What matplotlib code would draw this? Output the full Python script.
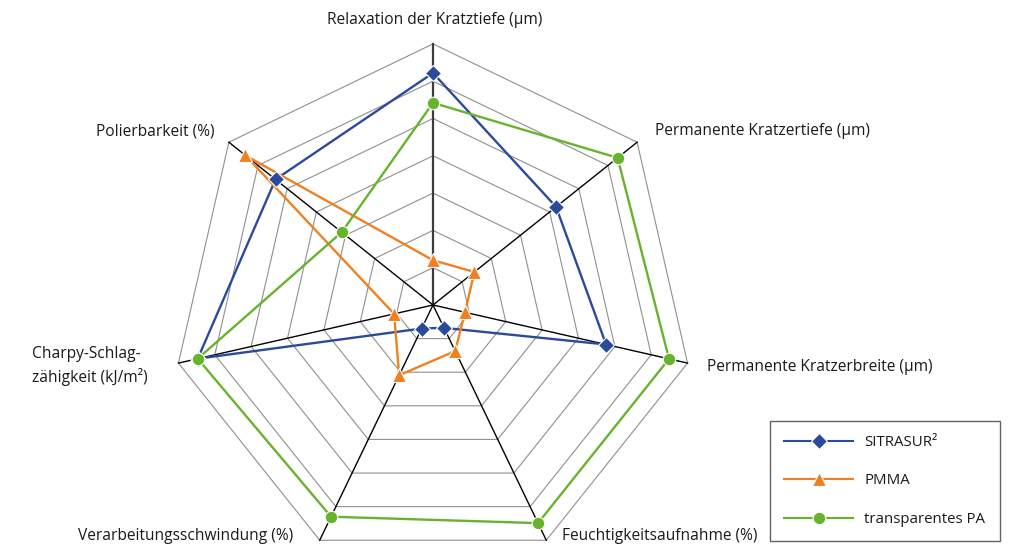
import numpy as np
import matplotlib.pyplot as plt
from matplotlib.lines import Line2D

plt.rcParams['font.family'] = ['Open Sans', 'DejaVu Sans']

categories = ['Relaxation der Kratztiefe (µm)', 'Permanente Kratzertiefe (µm)',
              'Permanente Kratzerbreite (µm)', 'Feuchtigkeitsaufnahme (%)',
              'Verarbeitungsschwindung (%)', 'Charpy-Schlag-\nzähigkeit (kJ/m²)',
              'Polierbarkeit (%)']
sitrasur = [6.22, 4.22, 4.76, 0.68, 0.70, 6.47, 5.40]
pmma = [1.20, 1.42, 0.88, 1.37, 2.09, 1.07, 6.43]
trans_pa = [5.42, 6.33, 6.49, 6.49, 6.30, 6.47, 3.13]
series_names = ['SITRASUR²', 'PMMA', 'transparentes PA']
n_rings = 7

colors = ['#2b4a9c', '#f08020', '#68b32e']
markers = ['D', '^', 'o']
msizes = [8.5, 10, 9]

n = len(categories)
ang = np.pi / 2 - np.arange(n) * 2 * np.pi / n  # clockwise from top


def to_xy(vals):
    v = np.asarray(vals, dtype=float)
    x = v * np.cos(ang)
    y = v * np.sin(ang)
    return np.append(x, x[0]), np.append(y, y[0])


fig = plt.figure(figsize=(10.2, 5.51), dpi=100)
ax = fig.add_axes([0, 0, 1, 1])
unit = 37.3
ax.set_xlim(-433 / unit, (1020 - 433) / unit)
ax.set_ylim(-(551 - 305) / unit, 305 / unit)
ax.axis('off')

# heptagon rings
for r in range(1, n_rings + 1):
    gx, gy = to_xy([r] * n)
    ax.plot(gx, gy, color='#8f8f8f', lw=0.8, zorder=1)

# spokes
for i in range(n):
    if i == 0:
        ax.plot([0, n_rings * np.cos(ang[i])], [0, n_rings * np.sin(ang[i])],
                color='#3c3c3c', lw=1.6, zorder=2)
    else:
        ax.plot([0, n_rings * np.cos(ang[i])], [0, n_rings * np.sin(ang[i])],
                color='black', lw=1.0, zorder=2)

handles = []
for vals, name, c, m, ms in zip([sitrasur, pmma, trans_pa], series_names, colors, markers, msizes):
    sx, sy = to_xy(vals)
    ax.plot(sx, sy, color=c, lw=1.7, zorder=3)
    ax.plot(sx[:-1], sy[:-1], ls='none', marker=m, ms=ms, color=c,
            markeredgecolor='white', markeredgewidth=0.8, zorder=4)
    handles.append(Line2D([], [], color=c, lw=1.5, marker=m, ms=ms,
                          markeredgecolor='white', markeredgewidth=0.8, label=name))

# axis labels (pixel positions from the reference)
txt = dict(fontsize=11.2, color='#1a1a1a', va='center')
lab_pos = [(435, 20, 'center'), (655, 131, 'left'), (707, 367, 'left'),
           (562, 536, 'left'), (293, 536, 'right'), (32, 366, 'left'),
           (215, 132, 'right')]
for lab, (px, py, ha) in zip(categories, lab_pos):
    fig.text(px / 1020, 1 - py / 551, lab, ha=ha, linespacing=1.45, **txt)

leg = fig.legend(handles=handles, loc='lower left',
                 bbox_to_anchor=(770 / 1020, 10 / 551), frameon=True,
                 fancybox=False, fontsize=10.8, handlelength=4.6,
                 labelspacing=1.55, borderpad=0.95, handletextpad=0.75,
                 borderaxespad=0)
leg.get_frame().set_edgecolor('#3c3c3c')
leg.get_frame().set_linewidth(1.0)
for t in leg.get_texts():
    t.set_color('#1a1a1a')

fig.savefig('out.png', dpi=100)
